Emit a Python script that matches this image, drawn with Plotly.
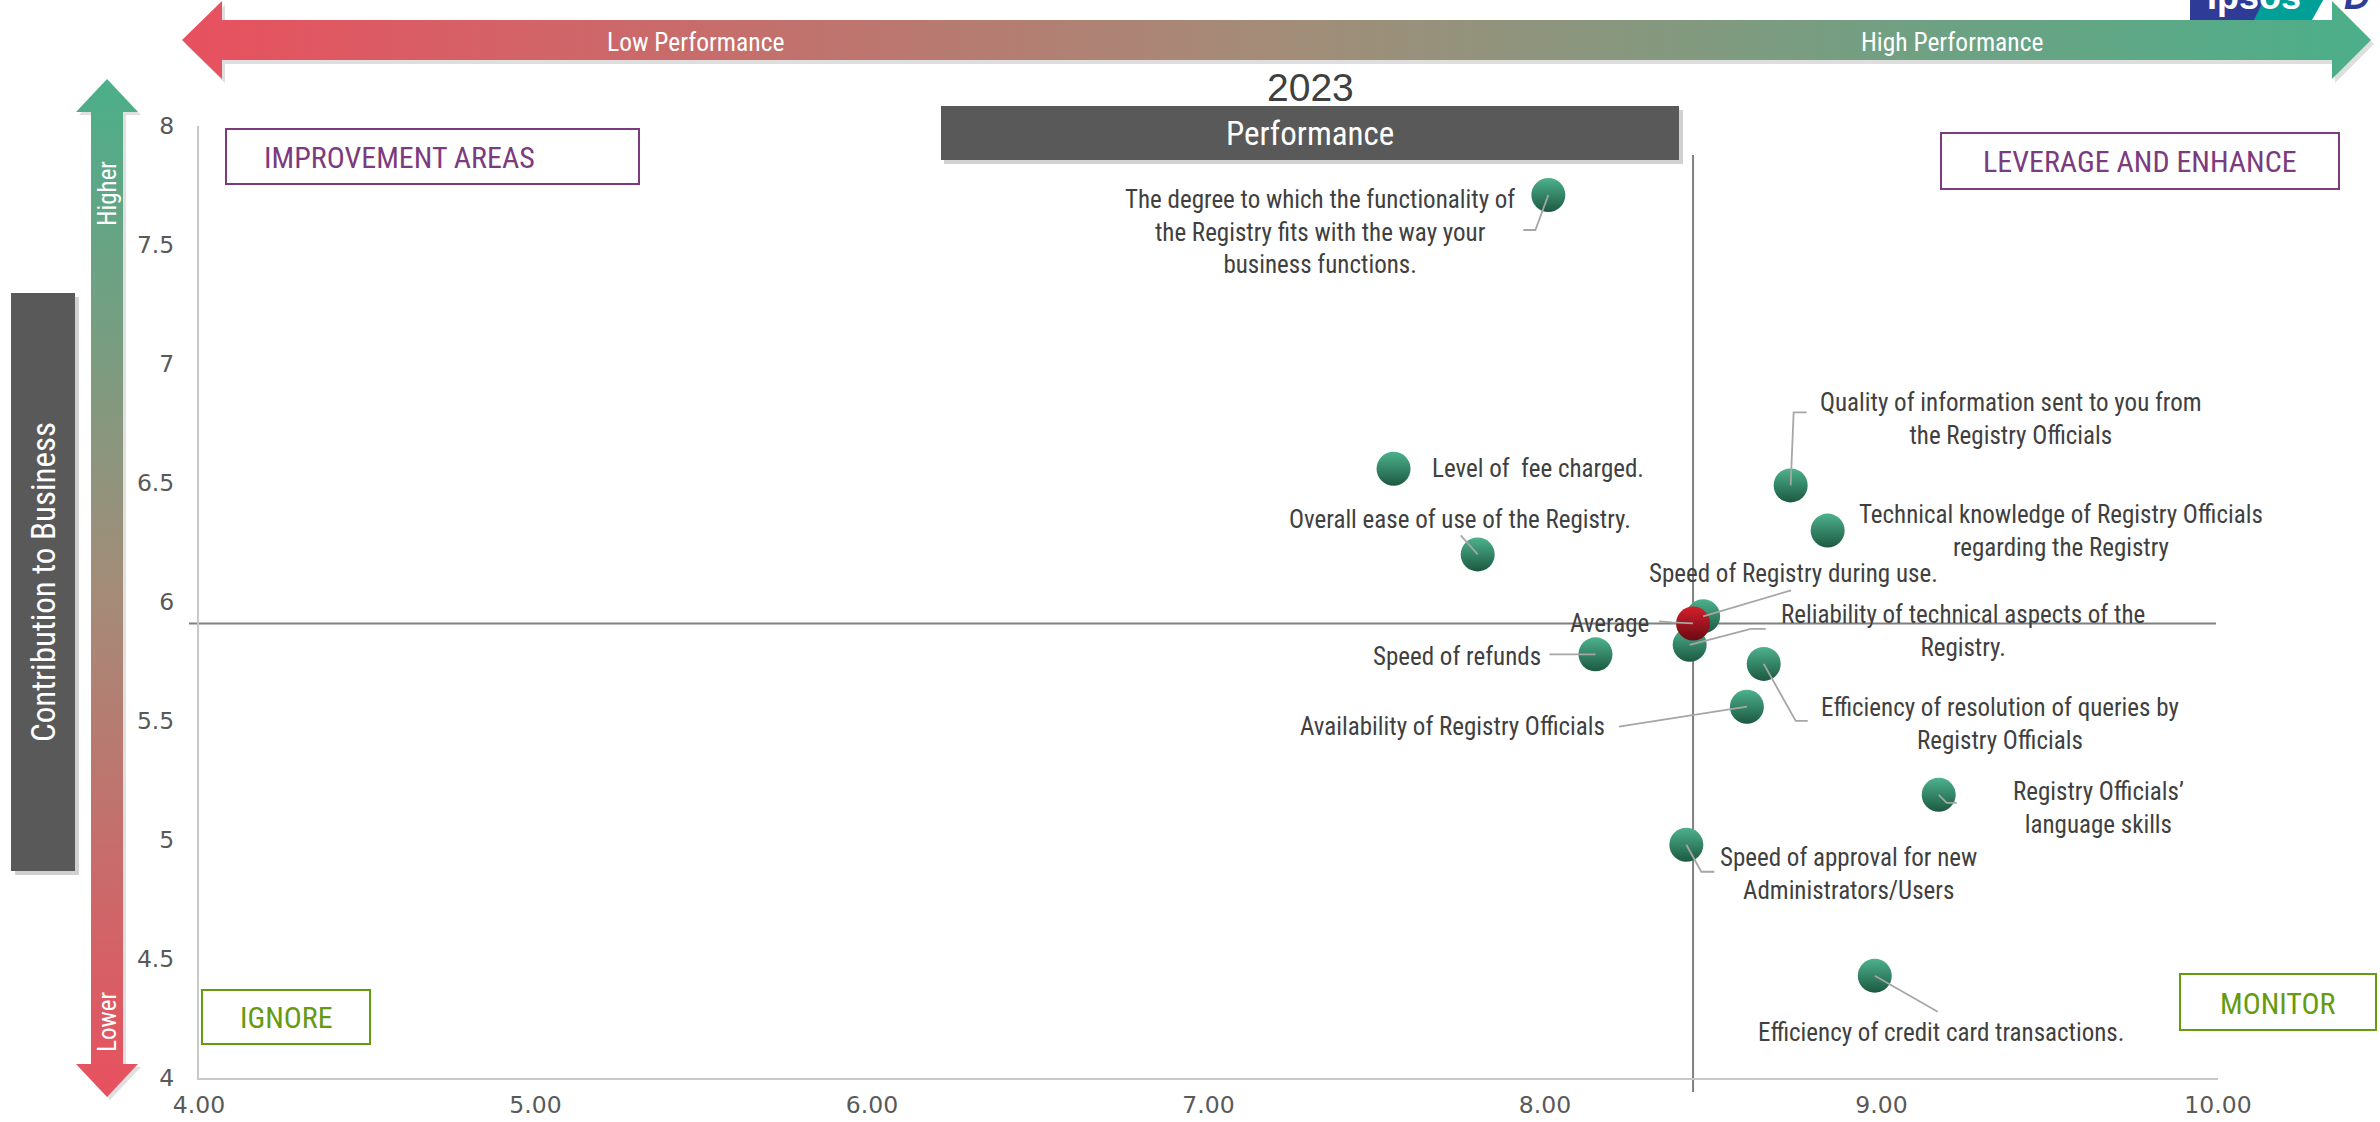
import plotly.graph_objects as go

W, H = 2380, 1122

# ---------------- data ----------------
attributes = [
    "The degree to which the functionality of<br>the Registry fits with the way your<br>business functions.",
    "Level of\u00a0 fee charged.",
    "Overall ease of use of the Registry.",
    "Quality of information sent to you from<br>the Registry Officials",
    "Technical knowledge of Registry Officials<br>regarding the Registry",
    "Speed of Registry during use.",
    "Reliability of technical aspects of the<br>Registry.",
    "Speed of refunds",
    "Efficiency of resolution of queries by<br>Registry Officials",
    "Availability of Registry Officials",
    "Registry Officials\u2019<br>language skills",
    "Speed of approval for new<br>Administrators/Users",
    "Efficiency of credit card transactions.",
]
performance = [8.01, 7.55, 7.80, 8.73, 8.84, 8.47, 8.43, 8.15, 8.65, 8.60, 9.17, 8.42, 8.98]
contribution = [7.71, 6.56, 6.20, 6.49, 6.30, 5.94, 5.82, 5.78, 5.74, 5.56, 5.19, 4.98, 4.43]

average_label = "Average"
avg_performance = 8.44
avg_contribution = 5.91

x_ticks = [4, 5, 6, 7, 8, 9, 10]
y_ticks = [4, 4.5, 5, 5.5, 6, 6.5, 7, 7.5, 8]

year_label = "2023"
x_title = "Performance"
y_title = "Contribution to Business"
quadrants = ["IMPROVEMENT AREAS", "LEVERAGE AND ENHANCE", "IGNORE", "MONITOR"]

# ---------------- label placement (pixels relative to each point, y up) ----------------
label_place = [
    ("center", -228, -37, "M0,0 L-13,-35 L-25,-35"),
    ("left", 36, 0, None),
    ("center", -18, 35, "M0,0 L-17,19"),
    ("center", 220, 66, "M0,0 L3,73 L16,73"),
    ("center", 233, 0, None),
    ("center", 90, 43, "M0,0 L88,26"),
    ("center", 273, 14, "M0,0 L61,16 L76,16"),
    ("right", -52, -2, "M0,0 L-46,0"),
    ("center", 236, -60, "M0,0 L32,-57 L44,-57"),
    ("right", -140, -20, "M0,0 L-128,-20"),
    ("center", 160, -13, "M0,0 L8,-8 L18,-8"),
    ("center", 162, -29, "M0,0 L15,-27 L28,-27"),
    ("center", 66, -57, "M0,0 L63,-36"),
]
avg_label_place = ("right", -42, 0, "M0,0 L-21,1 L-34,2")

NARROW = "Liberation Sans Narrow, Arial Narrow, Roboto Condensed, sans-serif"
SANS = "Liberation Sans, Arial, sans-serif"
TICK = "DejaVu Sans, Verdana, sans-serif"
TEXT_GREY = "#404040"
LEADER = "#A6A6A6"
RED = "#E8505F"
GREEN = "#4BAF8A"
PURPLE = "#7B3B7E"
OLIVE = "#669A10"
DARK_BOX = "#595959"

fig = go.Figure()

# ---------------- decorations on a full-figure pixel canvas (x2/y2) ----------------
def poly(xs, ys, **kw):
    fig.add_trace(go.Scatter(x=xs + [xs[0]], y=ys + [ys[0]], xaxis="x2", yaxis="y2",
                             mode="lines", line=dict(width=0), fill="toself",
                             hoverinfo="skip", **kw))

# horizontal performance arrow
hx = [182, 222, 222, 2332, 2332, 2371, 2332, 2332, 222, 222]
hy = [40, 1, 20, 20, 1, 40, 79, 60, 60, 79]
poly([v + 3 for v in hx], [v + 4 for v in hy], fillcolor="rgba(0,0,0,0.13)")
poly(hx, hy, fillgradient=dict(type="horizontal", start=182, stop=2371,
                               colorscale=[[0, RED], [0.5, "#A38C78"], [1, GREEN]]))

# vertical contribution arrow
vx = [107, 138, 123, 123, 138, 107, 76, 91, 91, 76]
vy = [79, 112, 112, 1064, 1064, 1097, 1064, 1064, 112, 112]
poly([v + 3 for v in vx], [v + 3 for v in vy], fillcolor="rgba(0,0,0,0.12)")
poly(vx, vy, fillgradient=dict(type="vertical", start=79, stop=1097,
                               colorscale=[[0, GREEN], [0.5, "#A38C78"], [1, RED]]))

shapes = []
annotations = []

def px_rect(x0, y0, x1, y1, **kw):
    d = dict(type="rect", xref="x2", yref="y2", x0=x0, y0=y0, x1=x1, y1=y1)
    d.update(kw)
    shapes.append(d)

def px_text(x, y, text, size, color, family=NARROW, angle=0, xanchor="center", **kw):
    annotations.append(dict(xref="x2", yref="y2", x=x, y=y, text=text, showarrow=False,
                            xanchor=xanchor, yanchor="middle", textangle=angle,
                            font=dict(family=family, size=size, color=color), **kw))

# logo strip in the top-right corner (only its lower edge shows above the arrow)
px_rect(2190, -5, 2268, 20, fillcolor="#2E3B97", line=dict(width=0), layer="below")
shapes.append(dict(type="path", xref="x2", yref="y2", layer="below",
                   path="M2266,-5 L2326,-5 L2312,20 L2254,20 Z",
                   fillcolor="#00A099", line=dict(width=0)))
px_text(2254, 1, "<b>Ipsos</b>", 36, "white", family=SANS, yshift=5)
px_text(2342, 1, "<b><i>D</i></b>", 36, "#2E3B97", family=SANS, xanchor="left", yshift=5)

# arrow captions
px_text(695, 42, "Low Performance", 25.5, "white")
px_text(1952, 42, "High Performance", 25.5, "white")
px_text(107, 194, "Higher", 25, "white", angle=-90)
px_text(107, 1022, "Lower", 25, "white", angle=-90)

# axis title boxes
px_rect(15, 297, 79, 875, fillcolor="rgba(0,0,0,0.18)", line=dict(width=0))
px_rect(11, 293, 75, 871, fillcolor=DARK_BOX, line=dict(width=0))
px_text(43, 582, y_title, 33, "white", angle=-90)

px_rect(944, 110, 1683, 164, fillcolor="rgba(0,0,0,0.18)", line=dict(width=0))
px_rect(941, 106, 1679, 160, fillcolor=DARK_BOX, line=dict(width=0))
px_text(1310, 133, x_title, 33, "white")
px_text(1310, 87, year_label, 39, TEXT_GREY, family=SANS)

# quadrant boxes
px_rect(226, 129, 639, 184, line=dict(color=PURPLE, width=2), fillcolor="rgba(0,0,0,0)")
px_text(262, 157, quadrants[0], 30, PURPLE, xanchor="left")
px_rect(1941, 133, 2339, 189, line=dict(color=PURPLE, width=2), fillcolor="rgba(0,0,0,0)")
px_text(2140, 161, quadrants[1], 30, PURPLE)
px_rect(202, 990, 370, 1044, line=dict(color=OLIVE, width=2), fillcolor="rgba(0,0,0,0)")
px_text(286, 1017, quadrants[2], 30, OLIVE)
px_rect(2180, 974, 2376, 1030, line=dict(color=OLIVE, width=2), fillcolor="rgba(0,0,0,0)")
px_text(2278, 1003, quadrants[3], 30, OLIVE)

# ---------------- average cross-hair ----------------
shapes.append(dict(type="line", xref="x", yref="paper", x0=avg_performance, x1=avg_performance,
                   y0=1 - 1092 / H, y1=1 - 155 / H, line=dict(color="#808080", width=2), layer="below"))
shapes.append(dict(type="line", xref="paper", yref="y", x0=189 / W, x1=2216 / W,
                   y0=avg_contribution, y1=avg_contribution,
                   line=dict(color="#808080", width=2), layer="below"))

# ---------------- data points ----------------
fig.add_trace(go.Scatter(
    x=performance, y=contribution, mode="markers", text=attributes, hoverinfo="text",
    marker=dict(size=34, color="#4DB28D", gradient=dict(type="vertical", color="#1C5941"),
                line=dict(width=0)),
))
fig.add_trace(go.Scatter(
    x=[avg_performance], y=[avg_contribution], mode="markers", text=[average_label],
    hoverinfo="text",
    marker=dict(size=34, color="#D51F2D", gradient=dict(type="vertical", color="#6A0A12"),
                line=dict(width=0)),
))

def add_label(x, y, text, place):
    xanchor, dx, dy, leader = place
    annotations.append(dict(xref="x", yref="y", x=x, y=y, text=text, showarrow=False,
                            xanchor=xanchor, yanchor="middle", xshift=dx, yshift=dy,
                            align="center",
                            font=dict(family=NARROW, size=25, color=TEXT_GREY)))
    if leader:
        shapes.append(dict(type="path", xref="x", yref="y", xsizemode="pixel",
                           ysizemode="pixel", xanchor=x, yanchor=y, path=leader,
                           line=dict(color=LEADER, width=1.8), layer="above"))

for xv, yv, t, p in zip(performance, contribution, attributes, label_place):
    add_label(xv, yv, t, p)
add_label(avg_performance, avg_contribution, average_label, avg_label_place)

tick_font = dict(family=TICK, size=23.5, color="#595959")
fig.update_layout(
    width=W, height=H,
    margin=dict(l=0, r=0, t=0, b=0, pad=0),
    paper_bgcolor="white", plot_bgcolor="rgba(0,0,0,0)",
    showlegend=False,
    xaxis=dict(domain=[199 / W, 2218 / W], range=[4, 10], tickvals=x_ticks,
               ticktext=[f"{v:.2f}" for v in x_ticks], showgrid=False, zeroline=False,
               showline=True, linecolor="#C8C8C8", linewidth=2, ticks="",
               tickfont=tick_font, ticklabelstandoff=5, automargin=False, fixedrange=True),
    yaxis=dict(domain=[1 - 1078 / H, 1 - 126 / H], range=[4, 8], tickvals=y_ticks,
               ticktext=[f"{v:g}" for v in y_ticks], showgrid=False, zeroline=False,
               showline=True, linecolor="#C8C8C8", linewidth=2, ticks="",
               tickfont=tick_font, ticklabelstandoff=18, automargin=False, fixedrange=True),
    xaxis2=dict(domain=[0, 1], range=[0, W], visible=False, anchor="y2", fixedrange=True),
    yaxis2=dict(domain=[0, 1], range=[H, 0], visible=False, anchor="x2", fixedrange=True),
    shapes=shapes,
    annotations=annotations,
)

fig.write_html("out.html")
